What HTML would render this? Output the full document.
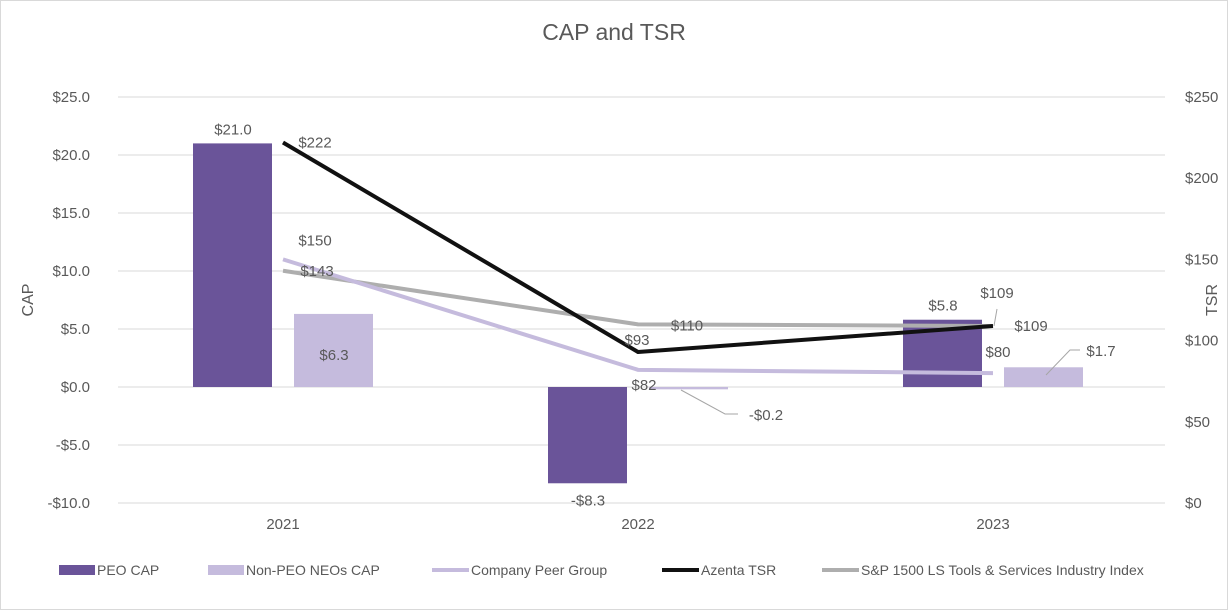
<!DOCTYPE html>
<html><head><meta charset="utf-8"><style>
html,body{margin:0;padding:0;background:#fff;}
svg{display:block;font-family:"Liberation Sans",Arial,sans-serif;}
</style></head><body>
<svg id="chart" width="1228" height="610">
<rect x="0.5" y="0.5" width="1227" height="609" fill="#fff" stroke="#d9d9d9"/>
<text x="614" y="40" text-anchor="middle" font-size="23" fill="#595959">CAP and TSR</text>
<g id="grid"></g><g id="bars"></g><g id="lines"></g><g id="labels"></g><g id="axes"></g>
<text transform="translate(33,300) rotate(-90)" text-anchor="middle" font-size="16" fill="#595959">CAP</text>
<text transform="translate(1217,300) rotate(-90)" text-anchor="middle" font-size="16" fill="#595959">TSR</text>
<g id="legend" font-size="14" fill="#595959">
<rect x="59" y="565" width="36" height="10" fill="#6a5499"/>
<text x="97" y="575">PEO CAP</text>
<rect x="208" y="565" width="36" height="10" fill="#c5bbdd"/>
<text x="246" y="575">Non-PEO NEOs CAP</text>
<line x1="432" y1="570" x2="469" y2="570" stroke="#c5bbdd" stroke-width="4"/>
<text x="471" y="575">Company Peer Group</text>
<line x1="662" y1="570" x2="699" y2="570" stroke="#111" stroke-width="4"/>
<text x="701" y="575">Azenta TSR</text>
<line x1="822" y1="570" x2="859" y2="570" stroke="#aeaeae" stroke-width="4"/>
<text x="861" y="575">S&amp;P 1500 LS Tools &amp; Services Industry Index</text>
</g>
</svg>
<script>
const categories=["2021","2022","2023"];
const peoCap=[21.0,-8.3,5.8];
const nonPeoCap=[6.3,-0.2,1.7];
const peerGroup=[150,82,80];
const azenta=[222,93,109];
const spIndex=[143,110,109];
const leftTicks=[25,20,15,10,5,0,-5,-10];
const rightTicks=[250,200,150,100,50,0];
const NS="http://www.w3.org/2000/svg";
const top_=97,bot=503,x0=105.5,band=355;
const yL=v=>top_+(25-v)/35*(bot-top_);
const yR=v=>bot-v/250*(bot-top_);
const xC=i=>x0+band*(i+0.5);
function mk(tag,attrs,parent,txt){const e=document.createElementNS(NS,tag);for(const k in attrs)e.setAttribute(k,attrs[k]);if(txt!==undefined)e.textContent=txt;document.getElementById(parent).appendChild(e);return e;}
const fmt=v=>(v<0?"-$":"$")+Math.abs(v).toFixed(1);
leftTicks.forEach(t=>{
  const g=mk("line",{x1:118,x2:1165,y1:yL(t),y2:yL(t),stroke:"#d9d9d9"},"grid");
  
  
  const l=mk("text",{x:90,y:yL(t)+5,"text-anchor":"end","font-size":15,fill:"#595959"},"axes",(t<0?"-$":"$")+Math.abs(t).toFixed(1));
  
  
});
rightTicks.forEach(t=>{
  const l=mk("text",{x:1185,y:yR(t)+5,"font-size":15,fill:"#595959"},"axes","$"+t);
  
  
});
categories.forEach((c,i)=>{
  const l=mk("text",{x:xC(i),y:529,"text-anchor":"middle","font-size":15,fill:"#595959"},"axes",c);
  
  
  const z=yL(0);
  const p=peoCap[i],n=nonPeoCap[i];
  const b1=mk("rect",{x:xC(i)-90,width:79,y:Math.min(yL(p),z),height:Math.abs(yL(p)-z),fill:"#6a5499"},"bars");
  
  
  const b2=mk("rect",{x:xC(i)+11,width:79,y:Math.min(yL(n),z),height:Math.max(Math.abs(yL(n)-z),1.5),fill:"#c5bbdd"},"bars");
  
  
  const py=p>=0?yL(p)-9:yL(p)+22;
  const t1=mk("text",{x:xC(i)-50,y:py,"text-anchor":"middle","font-size":15,fill:"#595959"},"labels",fmt(p));
  
  
});
const npPos=[[xC(0)+51,yL(nonPeoCap[0])+46,null],[766,420,[681,390,725,414,738,414]],[1101,356,[1046,375,1070,350,1080,350]]];
nonPeoCap.forEach((v,i)=>{
  const [x,y,ld]=npPos[i];
  if(ld){const pl=mk("polyline",{points:ld.join(" "),fill:"none",stroke:"#a6a6a6"},"labels");}
  const t=mk("text",{x:x,y:y,"text-anchor":"middle","font-size":15,fill:"#595959"},"labels",fmt(v));
  
  
});
function series(vals,color,name,offs){
  const pts=vals.map((v,i)=>xC(i)+","+yR(v)).join(" ");
  const pl=mk("polyline",{points:pts,fill:"none",stroke:color,"stroke-width":4,"stroke-linejoin":"round"},"lines");
  
  
  vals.forEach((v,i)=>{
    const t=mk("text",{x:xC(i)+offs[i][0],y:yR(v)+offs[i][1],"text-anchor":"middle","font-size":15,fill:"#595959"},"labels","$"+v);
    
    
  });
}
series(spIndex,"#aeaeae","sp-index",[[34,5],[49,6],[4,-28]]);
series(peerGroup,"#c5bbdd","peer-group",[[32,-14],[6,20],[5,-16]]);
series(azenta,"#111","azenta-tsr",[[32,5],[-1,-7],[38,5]]);
const ld=mk("polyline",{points:[xC(2)+1,yR(spIndex[2]),xC(2)+4,yR(spIndex[2])-17].join(" "),fill:"none",stroke:"#a6a6a6"},"labels");


</script>
</body></html>
